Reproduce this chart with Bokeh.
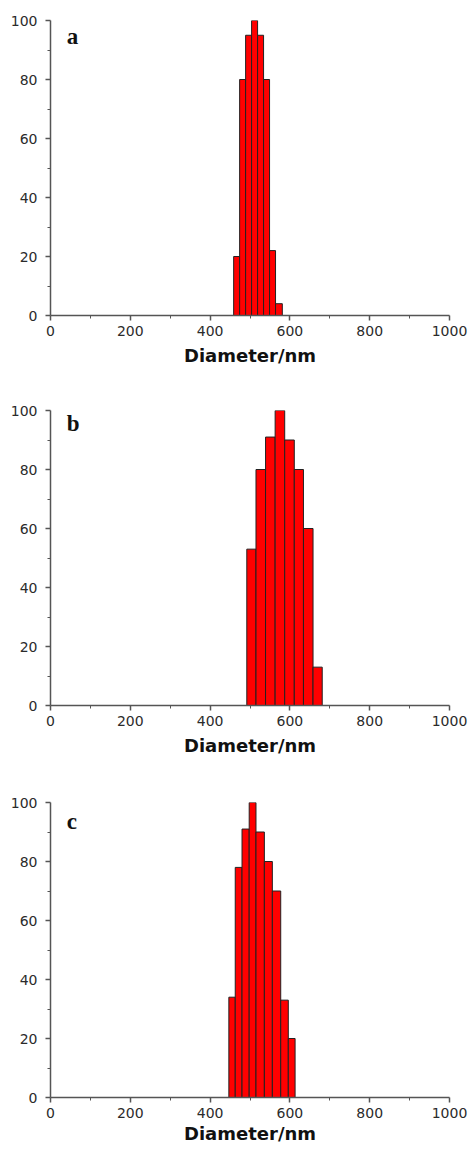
from bokeh.plotting import figure
from bokeh.layouts import column
from bokeh.models import Range1d, FixedTicker, Label
from bokeh.embed import file_html
from bokeh.resources import INLINE

# ---- data ----
panel_names = ["a", "b", "c"]
a_edges = [459, 474, 489, 504, 519, 534, 549, 564, 581]
a_counts = [20, 80, 95, 100, 95, 80, 22, 4]
b_edges = [492, 515, 539, 563, 587, 611, 634, 658, 681]
b_counts = [53, 80, 91, 100, 90, 80, 60, 13]
c_edges = [447, 463, 480, 498, 515, 536, 556, 577, 596, 613]
c_counts = [34, 78, 91, 100, 90, 80, 70, 33, 20]
x_ticks = [0, 200, 400, 600, 800, 1000]
x_minor = [100, 300, 500, 700, 900]
y_ticks = [0, 20, 40, 60, 80, 100]
y_minor = [10, 30, 50, 70, 90]
x_label = "Diameter/nm"

AXIS_COL = "#555555"
TXT_COL = "#2b2b2b"


def make_panel(name, edges, counts, height, top, bottom, label_y, label_standoff):
    p = figure(width=468, height=height,
               x_range=Range1d(0, 1000), y_range=Range1d(0, 100),
               output_backend="svg", toolbar_location=None,
               min_border_left=50, min_border_right=19,
               min_border_top=top, min_border_bottom=bottom)
    p.xgrid.visible = False
    p.ygrid.visible = False
    p.outline_line_color = None
    p.background_fill_color = "white"
    p.border_fill_color = "white"

    p.quad(left=edges[:-1], right=edges[1:], bottom=[0] * len(counts), top=counts,
           fill_color="#ff0000", line_color="#222222", line_width=1)

    for ax in (p.xaxis[0], p.yaxis[0]):
        ax.axis_line_color = AXIS_COL
        ax.axis_line_width = 1.5
        ax.major_tick_line_color = AXIS_COL
        ax.minor_tick_line_color = AXIS_COL
        ax.major_tick_line_width = 1.5
        ax.minor_tick_line_width = 1
        ax.major_tick_in = 0
        ax.major_tick_out = 5
        ax.minor_tick_in = 0
        ax.minor_tick_out = 3
        ax.major_label_text_font = "DejaVu Sans"
        ax.major_label_text_font_size = "14px"
        ax.major_label_text_color = TXT_COL

    p.xaxis.ticker = FixedTicker(ticks=x_ticks, minor_ticks=x_minor)
    p.yaxis.ticker = FixedTicker(ticks=y_ticks, minor_ticks=y_minor)
    p.xaxis.major_label_standoff = 5
    p.yaxis.major_label_standoff = 8

    p.xaxis.axis_label = x_label
    p.xaxis.axis_label_text_font = "DejaVu Sans"
    p.xaxis.axis_label_text_font_style = "bold"
    p.xaxis.axis_label_text_font_size = "18px"
    p.xaxis.axis_label_text_color = "#111111"
    p.xaxis.axis_label_standoff = label_standoff

    p.add_layout(Label(x=41, y=label_y, text=name, text_font="Liberation Serif",
                       text_font_style="bold", text_font_size="23px",
                       text_color="#111111", text_baseline="alphabetic"))
    return p


pa = make_panel(panel_names[0], a_edges, a_counts, 390, 20, 75, 94.6, 6)
pb = make_panel(panel_names[1], b_edges, b_counts, 390, 20, 75, 95.5, 6)
pc = make_panel(panel_names[2], c_edges, c_counts, 370, 22, 53, 93.6, 2)

layout = column(pa, pb, pc, spacing=0)
open("out.html", "w").write(file_html(layout, INLINE))
